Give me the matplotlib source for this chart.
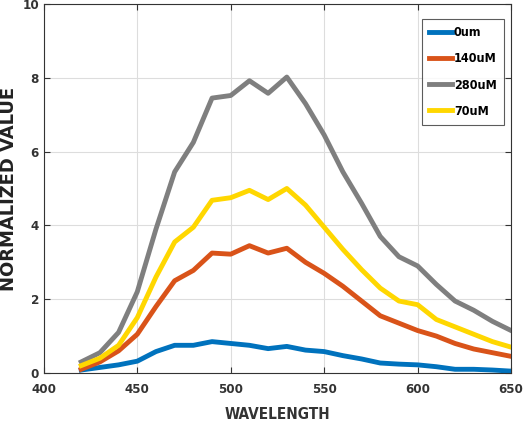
import matplotlib
matplotlib.use("Agg")
import matplotlib.pyplot as plt
from matplotlib import font_manager

wavelength = [420, 430, 440, 450, 460, 470, 480, 490, 500, 510, 520, 530,
              540, 550, 560, 570, 580, 590, 600, 610, 620, 630, 640, 650]
v_0um = [0.08, 0.15, 0.22, 0.32, 0.58, 0.75, 0.75, 0.85, 0.80, 0.75, 0.66, 0.72,
         0.62, 0.58, 0.47, 0.38, 0.27, 0.24, 0.22, 0.17, 0.10, 0.10, 0.08, 0.05]
v_140uM = [0.10, 0.30, 0.60, 1.05, 1.80, 2.50, 2.78, 3.25, 3.22, 3.45, 3.25, 3.38,
           3.00, 2.70, 2.35, 1.95, 1.55, 1.35, 1.15, 1.00, 0.80, 0.65, 0.55, 0.45]
v_280uM = [0.30, 0.55, 1.10, 2.20, 3.90, 5.45, 6.25, 7.45, 7.52, 7.92, 7.58, 8.02,
           7.30, 6.45, 5.45, 4.60, 3.70, 3.15, 2.90, 2.40, 1.95, 1.70, 1.40, 1.15]
v_70uM = [0.20, 0.40, 0.75, 1.50, 2.60, 3.55, 3.95, 4.68, 4.75, 4.95, 4.70, 5.00,
          4.55, 3.95, 3.35, 2.80, 2.30, 1.95, 1.85, 1.45, 1.25, 1.05, 0.85, 0.70]

labels = ["0um", "140uM", "280uM", "70uM"]
series = [v_0um, v_140uM, v_280uM, v_70uM]
colors = ["#0072BD", "#D95319", "#7F7F7F", "#FFD700"]

# condensed face if one is installed, else plain DejaVu
names = {f.name for f in font_manager.fontManager.ttflist}
narrow = 'Liberation Sans Narrow' if 'Liberation Sans Narrow' in names else 'DejaVu Sans'
plt.rcParams['font.family'] = [narrow, 'DejaVu Sans']
plt.rcParams['font.stretch'] = 'condensed'

fig = plt.figure(figsize=(5.28, 4.34), dpi=100)
ax = fig.add_axes([0.083, 0.1406, 0.885, 0.8502])

for y, lab, c in zip(series, labels, colors):
    ax.plot(wavelength, y, color=c, linewidth=3.5, label=lab)

ax.set_xlim(400, 650)
ax.set_ylim(0, 10)
ax.set_xticks([400, 450, 500, 550, 600, 650])
ax.set_yticks([0, 2, 4, 6, 8, 10])
ax.grid(True, color='#dddddd', linewidth=0.8)
ax.tick_params(direction='in', top=True, right=True, labelsize=9.5, length=4,
               color='#333333')
ax.tick_params(axis='x', pad=7)
for lab in ax.get_xticklabels() + ax.get_yticklabels():
    lab.set_fontweight('bold')
    lab.set_color('#333333')
for s in ax.spines.values():
    s.set_color('#333333')
    s.set_linewidth(0.8)

ax.set_xlabel('WAVELENGTH', fontsize=11, fontweight='bold', color='#333333')
ax.xaxis.set_label_coords(0.5, -0.092)
ax.set_ylabel('NORMALIZED VALUE', fontsize=13, fontweight='bold',
              family='DejaVu Sans', stretch='normal', color='#222222')
ax.yaxis.set_label_coords(-0.056, 0.5)

leg = ax.legend(loc='upper right', bbox_to_anchor=(0.985, 0.96),
                prop={'weight': 'bold', 'size': 9}, handlelength=1.8,
                labelspacing=1.05, fancybox=False, edgecolor='#333333',
                borderpad=0.6, handletextpad=0.15, borderaxespad=0)
leg.get_frame().set_linewidth(0.8)

fig.savefig('out.png', dpi=100)
